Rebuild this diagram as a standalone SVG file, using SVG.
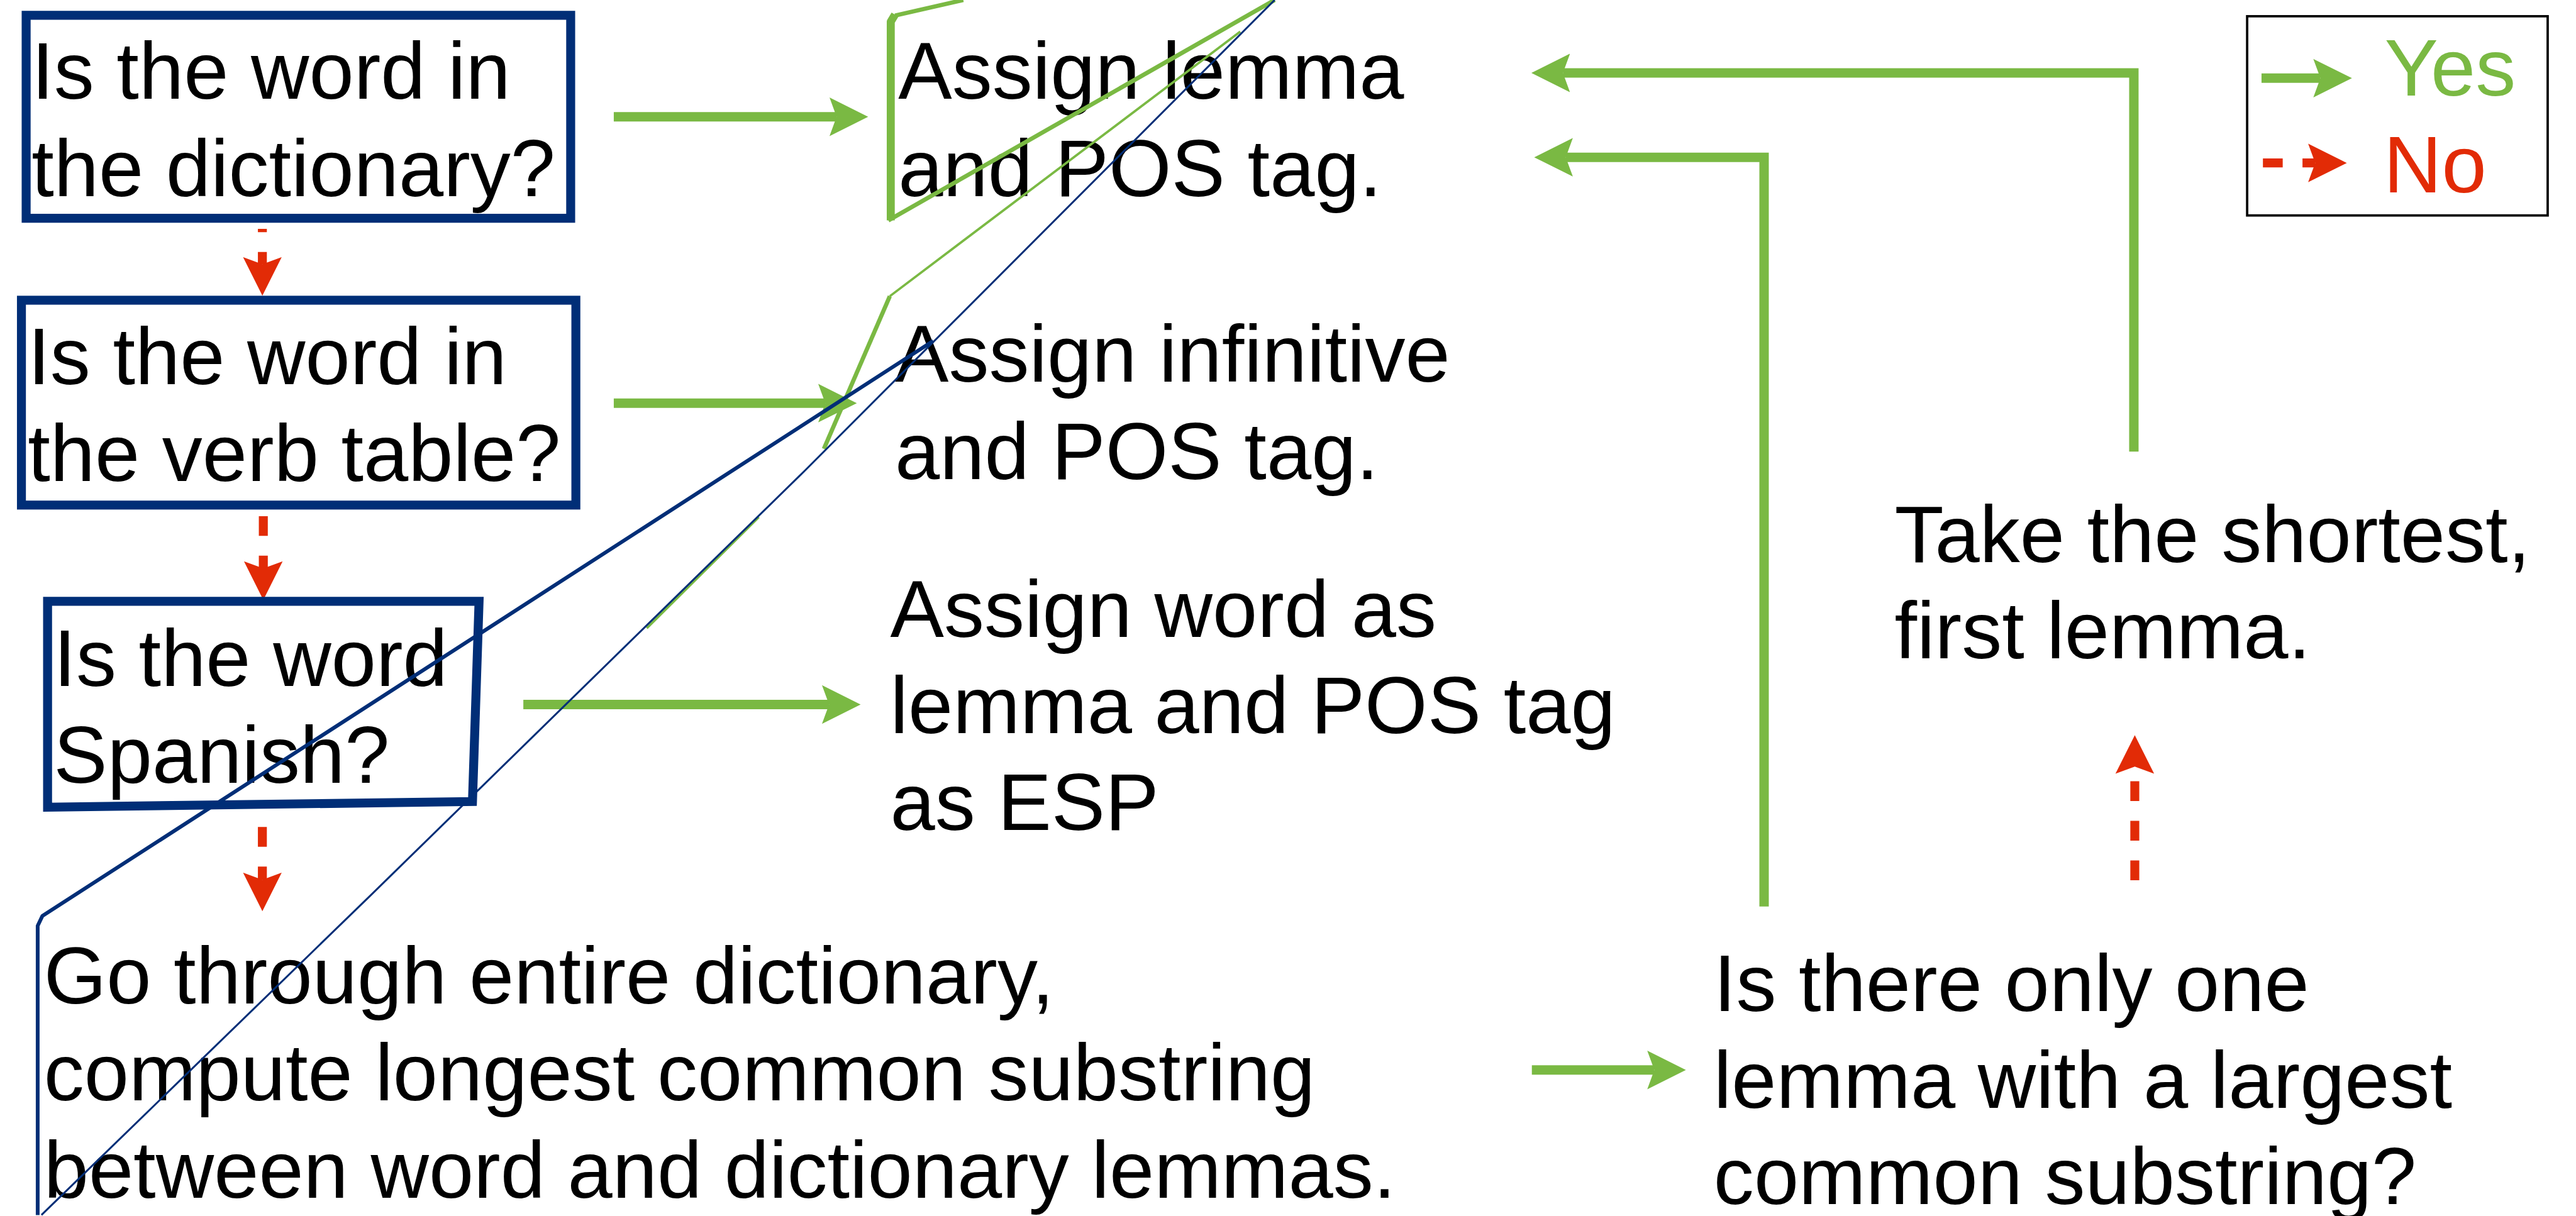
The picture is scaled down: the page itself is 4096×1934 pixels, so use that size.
<svg xmlns="http://www.w3.org/2000/svg" width="4096" height="1934" viewBox="0 0 4096 1934">
<defs>
<style>
.t{font-family:"Liberation Sans",Arial,sans-serif;font-size:171px;fill:#000}
.box{fill:none;stroke:#002E77;stroke-width:19}
.yes{fill:none;stroke:#7AB943;stroke-width:20;stroke-linejoin:miter;stroke-linecap:butt}
.no{fill:none;stroke:#E22B06;stroke-width:19;stroke-dasharray:42 42;stroke-linecap:butt}
.ag{fill:none;stroke:#7AB943;stroke-linecap:butt;stroke-linejoin:round}
.ab{fill:none;stroke:#002E77;stroke-linecap:butt;stroke-linejoin:round}
</style>
<marker id="ahG" markerUnits="userSpaceOnUse" viewBox="0 -42 84 84" markerWidth="84" markerHeight="84" refX="15" refY="0" orient="auto"><path d="M0,-41 L82,0 L0,41 L15,0 Z" fill="#7AB943"/></marker>
<marker id="ahR" markerUnits="userSpaceOnUse" viewBox="0 -42 84 84" markerWidth="84" markerHeight="84" refX="15" refY="0" orient="auto"><path d="M0,-41 L82,0 L0,41 L15,0 Z" fill="#E22B06"/></marker>
</defs>
<rect width="4096" height="1934" fill="#fff"/>
<g transform="scale(0.749)">
<g id="connectors">
<line class="yes" x1="1303" y1="248" x2="1776" y2="248" marker-end="url(#ahG)"/>
<line class="yes" x1="1303" y1="856" x2="1752" y2="856" marker-end="url(#ahG)"/>
<line class="yes" x1="1111" y1="1496" x2="1760" y2="1496" marker-end="url(#ahG)"/>
<line class="yes" x1="3252" y1="2272" x2="3512" y2="2272" marker-end="url(#ahG)"/>
<polyline class="yes" points="4530,959 4530,155 3318,155" marker-end="url(#ahG)"/>
<polyline class="yes" points="3745,1925 3745,334 3324,334" marker-end="url(#ahG)"/>
<line class="no" x1="557" y1="486" x2="557" y2="561" stroke-dashoffset="35" marker-end="url(#ahR)"/>
<line class="no" x1="559" y1="1096" x2="559" y2="1207" marker-end="url(#ahR)"/>
<line class="no" x1="557" y1="1756" x2="557" y2="1868" marker-end="url(#ahR)"/>
<line class="no" x1="4532" y1="1902" x2="4532" y2="1628" stroke-dashoffset="51" marker-end="url(#ahR)"/>
</g>
<g id="n-dictionary">
<rect class="box" x="55.5" y="32.5" width="1156" height="431"/>
<text class="t"><tspan x="67" y="210">Is the word in</tspan><tspan x="67" y="416">the dictionary?</tspan></text>
</g>
<g id="n-verbtable">
<rect class="box" x="45.5" y="637.5" width="1177" height="435"/>
<text class="t"><tspan x="59" y="816">Is the word in</tspan><tspan x="59" y="1022">the verb table?</tspan></text>
</g>
<g id="n-spanish">
<polygon class="box" points="101,1277 1017,1277 1003,1702 101,1714"/>
<text class="t"><tspan x="114" y="1457">Is the word</tspan><tspan x="114" y="1662">Spanish?</tspan></text>
</g>
<g id="n-lcs">
<text class="t"><tspan x="93" y="2131">Go through entire dictionary,</tspan><tspan x="93" y="2337">compute longest common substring</tspan><tspan x="93" y="2543">between word and dictionary lemmas.</tspan></text>
</g>
<g id="n-assign-lemma">
<text class="t"><tspan x="1907" y="210">Assign lemma</tspan><tspan x="1907" y="416">and POS tag.</tspan></text>
</g>
<g id="n-assign-infinitive">
<text class="t"><tspan x="1900" y="811">Assign infinitive</tspan><tspan x="1900" y="1017">and POS tag.</tspan></text>
</g>
<g id="n-assign-esp">
<text class="t"><tspan x="1890" y="1352">Assign word as</tspan><tspan x="1890" y="1557">lemma and POS tag</tspan><tspan x="1890" y="1763">as ESP</tspan></text>
</g>
<g id="n-shortest">
<text class="t"><tspan x="4022" y="1193">Take the shortest,</tspan><tspan x="4022" y="1398">first lemma.</tspan></text>
</g>
<g id="n-onlyone">
<text class="t"><tspan x="3638" y="2147">Is there only one</tspan><tspan x="3638" y="2352">lemma with a largest</tspan><tspan x="3638" y="2557">common substring?</tspan></text>
</g>
<g id="legend">
<rect x="4770.5" y="34.5" width="638" height="423" fill="none" stroke="#000" stroke-width="5"/>
<line class="yes" x1="4801" y1="166" x2="4926" y2="166" marker-end="url(#ahG)"/>
<line class="no" x1="4804" y1="346" x2="4915" y2="346" marker-end="url(#ahR)"/>
<text class="t" x="5062" y="203" style="fill:#7AB943">Yes</text>
<text class="t" x="5060" y="408" style="fill:#E22B06">No</text>
</g>
<g id="stray-lines">
<polyline class="ag" stroke-width="9" points="2045,0 1900,33"/>
<polyline class="ag" stroke-width="17" stroke-linejoin="miter" points="1900,31 1891,46 1891,468"/>
<line class="ag" stroke-width="9" x1="1886" y1="468" x2="2706" y2="0"/>
<line class="ag" stroke-width="9" x1="1749" y1="953" x2="1889" y2="629"/>
<line class="ag" stroke-width="5" x1="1889" y1="629" x2="2633" y2="67"/>
<line class="ag" stroke-width="5" x1="1373" y1="1334" x2="1611" y2="1098"/>
<polyline class="ab" stroke-width="8" points="80,2580 80,1966 90,1945 1981,724"/>
<polyline class="ab" stroke-width="4" points="88,2580 788,1900 1708,1000 2706,0"/>
</g>
</g>
</svg>
